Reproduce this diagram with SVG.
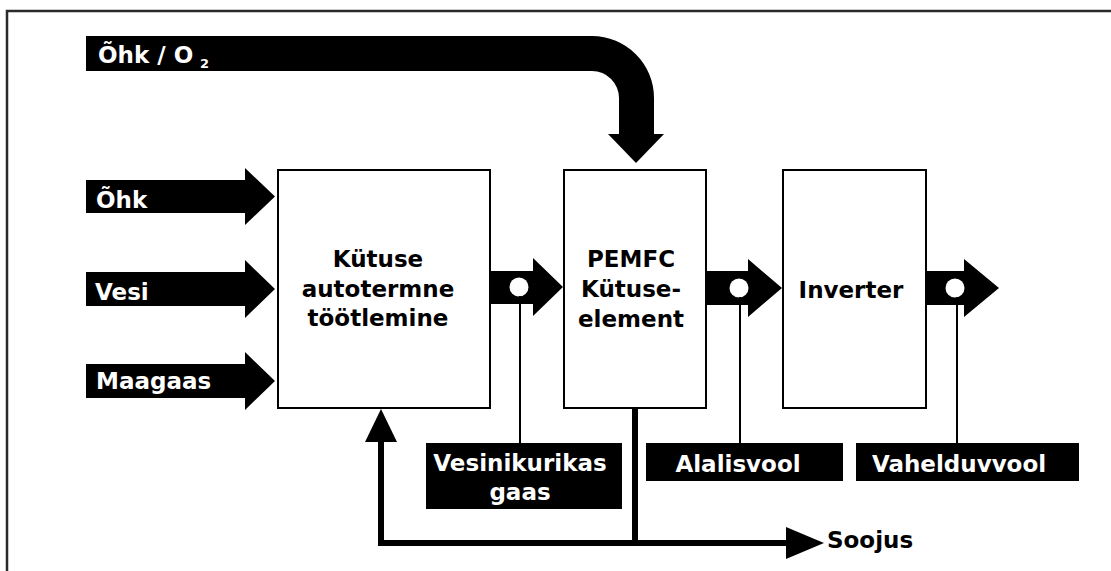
<svg xmlns="http://www.w3.org/2000/svg" width="1111" height="571" viewBox="0 0 1111 571">
<style>
.box{fill:#fff;stroke:#000;stroke-width:2}
.lbl{fill:#000}
.t{font-family:"DejaVu Sans","Liberation Sans",sans-serif;font-weight:bold;font-size:23px}
.w{fill:#fff}
.k{fill:#000}
.flow{fill:#000}
.dot{fill:#fff}
.thin{stroke:#000;stroke-width:2;fill:none}
.thick{stroke:#000;stroke-width:6;fill:none}
</style>
<rect x="0" y="0" width="1111" height="571" fill="#fff"/>
<path d="M7,571 V11 H1111" fill="none" stroke="#2a2a2a" stroke-width="2.5"/>

<g id="connectors">
  <!-- Ohk / O2 bent arrow -->
  <path class="flow" d="M86,36 H592 A62,62 0 0 1 654,98 V134 H664 L636,163 L608,134 H619 V98 A27,27 0 0 0 592,71 H86 Z"/>
  <text class="t w" x="98" y="63">Õhk / O</text>
  <text class="t w" x="200" y="68" style="font-size:13px">2</text>
  <!-- inputs -->
  <path class="flow" d="M86,180 H245 V168 L275,196.5 L245,225 V213 H86 Z"/>
  <text class="t w" x="96" y="208">Õhk</text>
  <path class="flow" d="M86,272 H245 V260 L275,289 L245,318 V306 H86 Z"/>
  <text class="t w" x="95" y="300">Vesi</text>
  <path class="flow" d="M86,364 H245 V352 L275,381 L245,410 V398 H86 Z"/>
  <text class="t w" x="96" y="389">Maagaas</text>
  <!-- box1 -> box2 -->
  <path class="flow" d="M490,271 H533 V258 L563,287 L533,316 V304 H490 Z"/>
  <circle class="dot" cx="519" cy="287" r="9.5"/>
  <line class="thin" x1="520" y1="296" x2="520" y2="443"/>
  <!-- box2 -> box3 -->
  <path class="flow" d="M706,271 H748 V259 L782,288 L748,317 V305 H706 Z"/>
  <circle class="dot" cx="739" cy="288" r="9.5"/>
  <line class="thin" x1="740" y1="297" x2="740" y2="443"/>
  <!-- box3 -> out -->
  <path class="flow" d="M926,271 H964 V259 L999,288 L964,317 V305 H926 Z"/>
  <circle class="dot" cx="955" cy="288" r="9.5"/>
  <line class="thin" x1="957" y1="297" x2="957" y2="443"/>
  <!-- heat loop -->
  <path class="thick" d="M635,408 V543"/>
  <path class="thick" d="M381,440 V543 H788"/>
  <polygon class="flow" points="381,409 397,442 365,442"/>
  <polygon class="flow" points="786,527 824,543 786,559"/>
  <text class="t k" x="827" y="548">Soojus</text>
</g>

<g id="n-reformer">
  <rect class="box" x="278" y="170" width="212" height="238"/>
  <text class="t k" text-anchor="middle" x="378" y="267">Kütuse</text>
  <text class="t k" text-anchor="middle" x="378" y="297">autotermne</text>
  <text class="t k" text-anchor="middle" x="378" y="326">töötlemine</text>
</g>
<g id="n-pemfc">
  <rect class="box" x="564" y="170" width="142" height="238"/>
  <text class="t k" text-anchor="middle" x="631" y="267">PEMFC</text>
  <text class="t k" text-anchor="middle" x="631" y="297">Kütuse-</text>
  <text class="t k" text-anchor="middle" x="631" y="327">element</text>
</g>
<g id="n-inverter">
  <rect class="box" x="783" y="170" width="143" height="238"/>
  <text class="t k" text-anchor="middle" x="851" y="298">Inverter</text>
</g>
<g id="n-vesinik">
  <rect class="lbl" x="426" y="443" width="196" height="66"/>
  <text class="t w" text-anchor="middle" x="520" y="471">Vesinikurikas</text>
  <text class="t w" text-anchor="middle" x="520" y="500">gaas</text>
</g>
<g id="n-alalis">
  <rect class="lbl" x="646" y="443" width="197" height="38"/>
  <text class="t w" text-anchor="middle" x="738" y="472">Alalisvool</text>
</g>
<g id="n-vahelduv">
  <rect class="lbl" x="856" y="443" width="223" height="38"/>
  <text class="t w" text-anchor="middle" x="959" y="472">Vahelduvvool</text>
</g>
</svg>
